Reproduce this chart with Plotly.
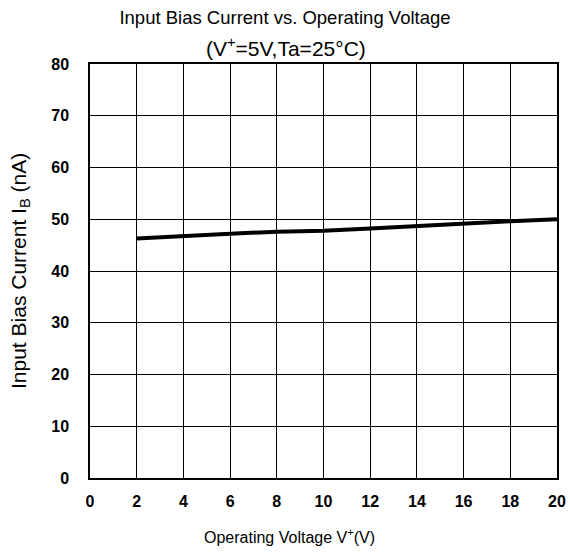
import plotly.graph_objects as go

voltage = [2, 4, 6, 8, 10, 12, 14, 16, 18, 20]
bias_current = [46.3, 46.8, 47.2, 47.6, 47.8, 48.2, 48.7, 49.2, 49.6, 50.0]

x_ticks = list(range(0, 21, 2))
y_ticks = list(range(0, 81, 10))

FONT = "Liberation Sans, Arial, sans-serif"
TICK_FONT = {"size": 16, "family": FONT, "weight": "bold", "color": "#000000"}

WIDTH, HEIGHT = 570, 552
MARGIN = {"l": 90, "r": 13, "t": 64, "b": 74}
PLOT_W = WIDTH - MARGIN["l"] - MARGIN["r"]


def paper_x(px):
    return (px - MARGIN["l"]) / PLOT_W


fig = go.Figure()
fig.add_scatter(
    x=voltage,
    y=bias_current,
    mode="lines",
    line={"color": "#000000", "width": 4},
    showlegend=False,
)

axis_style = {
    "showgrid": True,
    "gridcolor": "#000000",
    "gridwidth": 1,
    "zeroline": False,
    "showline": True,
    "linecolor": "#000000",
    "linewidth": 1.5,
    "mirror": True,
    "ticks": "",
    "tickfont": TICK_FONT,
    "automargin": False,
    "fixedrange": True,
}

fig.update_layout(
    width=WIDTH,
    height=HEIGHT,
    margin=MARGIN,
    paper_bgcolor="#FFFFFF",
    plot_bgcolor="#FFFFFF",
    font={"family": FONT, "color": "#000000"},
    title={
        "text": "Input Bias Current vs. Operating Voltage",
        "x": 0.5,
        "xref": "container",
        "xanchor": "center",
        "y": 1 - 18 / HEIGHT,
        "yref": "container",
        "yanchor": "middle",
        "font": {"size": 18.5, "family": FONT},
    },
    xaxis={**axis_style, "range": [0, 20], "tickvals": x_ticks, "ticklabelstandoff": 8},
    yaxis={**axis_style, "range": [0, 80], "tickvals": y_ticks, "ticklabelstandoff": 16},
)

fig.add_annotation(
    text="(V<sup>+</sup>=5V,Ta=25°C)",
    x=paper_x(285.5), xref="paper", xanchor="center",
    y=1, yref="paper", yanchor="middle", yshift=17,
    showarrow=False,
    font={"size": 21, "family": FONT},
)
fig.add_annotation(
    text="Operating Voltage V<sup>+</sup>(V)",
    x=paper_x(289), xref="paper", xanchor="center",
    y=0, yref="paper", yanchor="middle", yshift=-58,
    showarrow=False,
    font={"size": 16, "family": FONT},
)
fig.add_annotation(
    text="Input Bias Current I<sub>B</sub> (nA)",
    textangle=-90,
    x=0, xref="paper", xanchor="center", xshift=-70,
    y=0.5, yref="paper", yanchor="middle",
    showarrow=False,
    font={"size": 21, "family": FONT},
)

# drop the browser's default body margin so the figure fills the window exactly
fig.write_html(
    "out.html",
    config={"displayModeBar": False},
    post_script="document.body.style.margin = '0';",
)
